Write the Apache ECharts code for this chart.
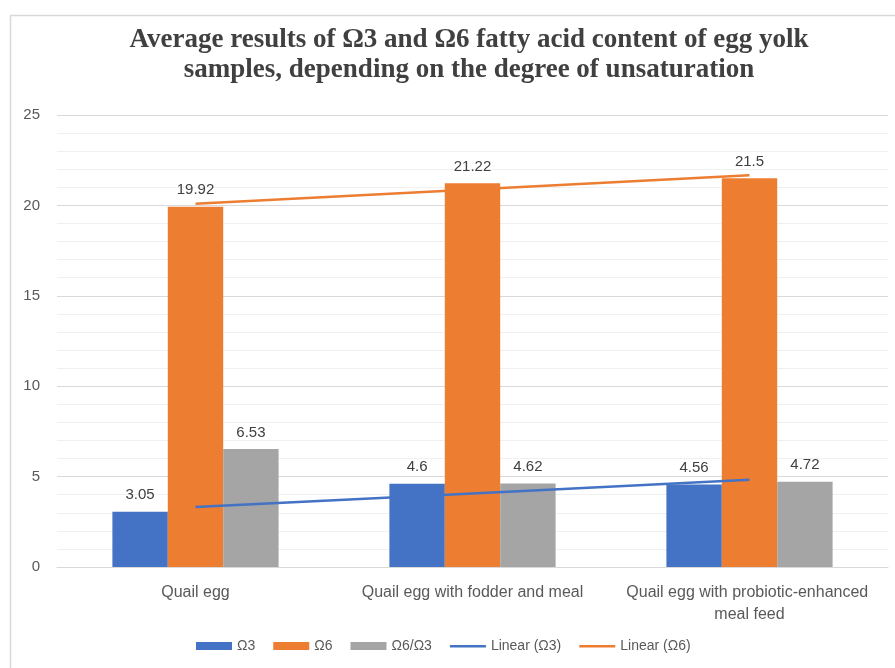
<!DOCTYPE html>
<html>
<head>
<meta charset="utf-8">
<script src="https://cdn.jsdelivr.net/npm/echarts@6/dist/echarts.min.js"></script>
<style>
  html, body { margin: 0; padding: 0; background: #fff; }
  #chart { width: 895px; height: 668px; }
</style>
</head>
<body>
<div id="chart"></div>
<script>
const categories = [
  "Quail egg",
  "Quail egg with fodder and meal",
  "Quail egg with probiotic-enhanced meal feed",
];
const omega3 = [3.05, 4.6, 4.56];
const omega6 = [19.92, 21.22, 21.5];
const ratio = [6.53, 4.62, 4.72];
// trend lines
const linearOmega3 = [3.32, 4.07, 4.82];
const linearOmega6 = [20.09, 20.88, 21.67];
const yTicks = { min: 0, max: 25, interval: 5 };

const chart = echarts.init(document.getElementById("chart"));

const labelStyle = {
  show: true,
  position: "top",
  distance: 9,
  color: "#404040",
  fontSize: 15,
  fontFamily: "Liberation Sans",
};

// thin line icon for trend lines in the legend
const lineIcon = "path://M0,0M0,3h36v2.5h-36zM36,8";

const option = {
  animation: false,
  graphic: [
    {
      type: "rect",
      shape: { x: 10.5, y: 15.5, width: 900, height: 700 },
      style: { fill: "none", stroke: "#d9d9d9", lineWidth: 1.5 },
      silent: true,
    },
  ],
  title: {
    text: "Average results of Ω3 and Ω6 fatty acid content of egg yolk\nsamples, depending on the degree of unsaturation",
    left: 464,
    top: 20,
    textAlign: "center",
    textStyle: {
      fontFamily: "Liberation Serif",
      fontWeight: "bold",
      fontSize: 27,
      lineHeight: 30,
      color: "#404040",
    },
  },
  grid: { left: 57, right: 7, top: 115, bottom: 101 },
  legend: {
    bottom: 10,
    left: 191,
    itemGap: 18,
    itemWidth: 36,
    itemHeight: 8,
    textStyle: { color: "#595959", fontSize: 14, fontFamily: "Liberation Sans" },
    data: [
      { name: "Ω3", icon: "rect" },
      { name: "Ω6", icon: "rect" },
      { name: "Ω6/Ω3", icon: "rect" },
      { name: "Linear (Ω3)", icon: lineIcon },
      { name: "Linear (Ω6)", icon: lineIcon },
    ],
  },
  xAxis: {
    type: "category",
    data: categories,
    axisLine: { lineStyle: { color: "#d9d9d9" } },
    axisTick: { show: false },
    axisLabel: {
      color: "#595959",
      fontSize: 16,
      fontFamily: "Liberation Sans",
      margin: 15,
      width: 262,
      overflow: "break",
      lineHeight: 22,
      interval: 0,
    },
  },
  yAxis: {
    type: "value",
    min: yTicks.min,
    max: yTicks.max,
    interval: yTicks.interval,
    axisLine: { show: false },
    axisTick: { show: false },
    axisLabel: { color: "#595959", fontSize: 15, fontFamily: "Liberation Sans", margin: 17 },
    splitLine: { lineStyle: { color: "#d9d9d9", width: 1 } },
    minorTick: { show: false, splitNumber: 5 },
    minorSplitLine: { show: true, lineStyle: { color: "#f0f0f0", width: 1 } },
  },
  series: [
    {
      name: "Ω3",
      type: "bar",
      data: omega3,
      barGap: "0%",
      barCategoryGap: "40%",
      itemStyle: { color: "#4472C4" },
      label: labelStyle,
    },
    {
      name: "Ω6",
      type: "bar",
      data: omega6,
      itemStyle: { color: "#ED7D31" },
      label: labelStyle,
    },
    {
      name: "Ω6/Ω3",
      type: "bar",
      data: ratio,
      itemStyle: { color: "#A5A5A5" },
      label: labelStyle,
    },
    {
      name: "Linear (Ω3)",
      type: "line",
      data: linearOmega3,
      symbol: "none",
      lineStyle: { color: "#4472C4", width: 2.5 },
      itemStyle: { color: "#4472C4" },
      z: 5,
    },
    {
      name: "Linear (Ω6)",
      type: "line",
      data: linearOmega6,
      symbol: "none",
      lineStyle: { color: "#ED7D31", width: 2.5 },
      itemStyle: { color: "#ED7D31" },
      z: 5,
    },
  ],
};

chart.setOption(option);
</script>
</body>
</html>
